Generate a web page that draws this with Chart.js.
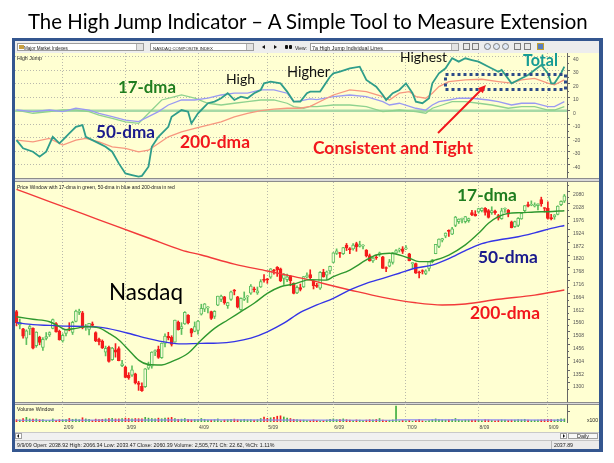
<!DOCTYPE html>
<html>
<head>
<meta charset="utf-8">
<script src="https://cdn.jsdelivr.net/npm/chart.js@4.4.0/dist/chart.umd.min.js"></script>
<style>
  body { margin:0; width:614px; height:463px; background:#fff; position:relative; overflow:hidden; font-family:"Liberation Sans", Arial, sans-serif; }
  .abs { position:absolute; }
  .txt { position:absolute; white-space:nowrap; line-height:1; font-size:10px; }
  .ann { font-family:Lato, "Open Sans", sans-serif; font-weight:bold; }
  .ui { font-family:"Liberation Sans", Arial, sans-serif; color:#222; }
  .combo { position:absolute; height:8px; background:#fff; border:1px solid #9c9c9c; box-sizing:border-box; }
  .btn { position:absolute; width:6px; height:6px; top:0; right:0; background:#e4e4e4; border-left:1px solid #b0b0b0; }
  .ico { position:absolute; top:43px; width:7px; height:7px; box-sizing:border-box; border:1px solid #7d7d7d; background:#e8e8e8; }
  canvas { position:absolute; }
</style>
</head>
<body>
<!-- window frame and panels -->
<div class="abs" style="left:12px;top:38px;width:591px;height:414px;background:#34568f"></div>
<div class="abs" style="left:15px;top:41px;width:584px;height:12px;background:#ededed"></div>
<div class="abs" style="left:15px;top:53px;width:584px;height:125px;background:#ffffd2"></div>
<div class="abs" style="left:15px;top:178px;width:584px;height:4px;background:#d9d9d9;border-top:1px solid #8c8c8c;border-bottom:1px solid #8c8c8c;box-sizing:border-box"></div>
<div class="abs" style="left:15px;top:182px;width:584px;height:220px;background:#ffffd2"></div>
<div class="abs" style="left:15px;top:402px;width:584px;height:3px;background:#d9d9d9;border-top:1px solid #8c8c8c;border-bottom:1px solid #8c8c8c;box-sizing:border-box"></div>
<div class="abs" style="left:15px;top:405px;width:584px;height:27px;background:#ffffd2"></div>
<div class="abs" style="left:15px;top:432px;width:584px;height:8px;background:#f1f1f1;border-top:1px solid #c9c9c9;box-sizing:border-box"></div>
<div class="abs" style="left:15px;top:440px;width:584px;height:9px;background:#ebebeb;border-top:1px solid #c4c4c4;box-sizing:border-box"></div>
<div class="abs" style="left:551px;top:441px;width:1px;height:8px;background:#b8b8b8"></div>

<!-- toolbar -->
<div class="combo" style="left:17px;top:43px;width:127px"><div class="abs" style="left:1px;top:1px;width:5px;height:4px;background:#c8a040"></div><div class="btn"></div></div>
<div class="combo" style="left:150px;top:43px;width:104px"><div class="btn"></div></div>
<div class="abs" style="left:262px;top:45px;width:0;height:0;border-top:2px solid transparent;border-bottom:2px solid transparent;border-right:3px solid #111"></div>
<div class="abs" style="left:274px;top:45px;width:0;height:0;border-top:2px solid transparent;border-bottom:2px solid transparent;border-left:3px solid #111"></div>
<div class="abs" style="left:285px;top:45px;width:3px;height:4px;border-radius:1px;background:#111"></div>
<div class="abs" style="left:289px;top:45px;width:3px;height:4px;border-radius:1px;background:#111"></div>
<div class="combo" style="left:310px;top:43px;width:149px"><div class="btn"></div></div>
<div class="ico" style="left:463px"></div>
<div class="ico" style="left:472px"></div>
<div class="ico" style="left:484px;border-radius:4px;background:#dfe8f5"></div>
<div class="ico" style="left:493px;border-radius:4px;background:#dfe8f5"></div>
<div class="ico" style="left:502px;border-radius:4px;background:#dfe8f5"></div>
<div class="ico" style="left:514px"></div>
<div class="ico" style="left:524px"></div>
<div class="ico" style="left:537px;background:#5a7fc0;border-color:#c0a030"></div>

<!-- scrollbar buttons -->
<div class="abs" style="left:15px;top:433px;width:7px;height:6px;background:#fff;border:1px solid #a0a0a0;box-sizing:border-box"></div>
<div class="abs" style="left:17px;top:434px;width:0;height:0;border-top:2px solid transparent;border-bottom:2px solid transparent;border-right:2px solid #111"></div>
<div class="abs" style="left:560px;top:433px;width:7px;height:6px;background:#fff;border:1px solid #a0a0a0;box-sizing:border-box"></div>
<div class="abs" style="left:563px;top:434px;width:0;height:0;border-top:2px solid transparent;border-bottom:2px solid transparent;border-left:2px solid #111"></div>
<div class="abs" style="left:568px;top:433px;width:30px;height:6px;background:#f7f7f7;border:1px solid #a0a0a0;box-sizing:border-box"></div>

<canvas id="hj" width="584" height="125" style="left:15px;top:53px"></canvas>
<canvas id="price" width="584" height="220" style="left:15px;top:182px"></canvas>
<canvas id="vol" width="584" height="29" style="left:15px;top:404px"></canvas>

<svg class="abs" style="left:0;top:0" width="614" height="463">
  <rect x="445.5" y="74.5" width="120" height="15" fill="none" stroke="#2c4a88" stroke-width="3" stroke-dasharray="3 3"/>
  <line x1="438" y1="133" x2="481" y2="90" stroke="#f2161c" stroke-width="2"/>
  <polygon points="486,85 482.8,93.2 477.8,88.2" fill="#f2161c"/>
</svg>

<div id="title" class="txt" style="font-family:Lato, 'Open Sans', sans-serif;color:#000">The High Jump Indicator – A Simple Tool to Measure Extension</div>
<div id="tb1" class="txt ui">Major Market Indexes</div>
<div id="tb2" class="txt ui">NASDAQ COMPOSITE INDEX</div>
<div id="tb3" class="txt ui">View:</div>
<div id="tb4" class="txt ui">7a High Jump Individual Lines</div>
<div id="lblHJ" class="txt ui">High Jump</div>
<div id="lblPrice" class="txt ui">Price Window with 17-dma in green, 50-dma in blue and 200-dma in red</div>
<div id="lblVol" class="txt ui">Volume Window</div>
<div id="lblX100" class="txt ui">x100</div>
<div id="lblDaily" class="txt ui">Daily</div>
<div id="status" class="txt ui">9/9/09 Open: 2038.92 High: 2066.34 Low: 2033.47 Close: 2060.39 Volume: 2,505,771 Ch: 22.62, %Ch: 1.11%</div>
<div id="status2" class="txt ui">2037.89</div>

<div id="a17" class="txt ann" style="color:#1f7d1f">17-dma</div>
<div id="aHigh" class="txt ann" style="font-weight:normal;color:#111">High</div>
<div id="aHigher" class="txt ann" style="font-weight:normal;color:#111">Higher</div>
<div id="aHighest" class="txt ann" style="font-weight:normal;color:#111">Highest</div>
<div id="aTotal" class="txt ann" style="color:#179c95">Total</div>
<div id="a50" class="txt ann" style="color:#1a1a8c">50-dma</div>
<div id="a200" class="txt ann" style="color:#f2161c">200-dma</div>
<div id="aCT" class="txt ann" style="color:#f2161c">Consistent and Tight</div>
<div id="p17" class="txt ann" style="color:#1f7d1f">17-dma</div>
<div id="p50" class="txt ann" style="color:#1a1a8c">50-dma</div>
<div id="p200" class="txt ann" style="color:#f2161c">200-dma</div>
<div id="pNas" class="txt ann" style="font-weight:normal;color:#000">Nasdaq</div>

<script>
// trading days 0..166 = 12 Jan 2009 .. 9 Sep 2009
const monthTicks = [14, 33, 55, 76, 96, 118, 140, 161];
const monthLabels = ['2/09', '3/09', '4/09', '5/09', '6/09', '7/09', '8/09', '9/09'];

// daily Nasdaq candles (Jan | Feb | Mar | Apr | May | Jun | Jul | Aug | Sep)
const opens = [
  1590,1536,1520,1482,1520,1522,1452,1486,1445,1481,1495,1522,1541,1510,
  1471,1501,1520,1505,1550,1587,1585,1526,1518,1540,1505,1478,1470,1425,1445,1395,1435,1440,1370,
  1365,1331,1332,1337,1301,1286,1285,1360,1368,1427,1437,1403,1461,1490,1486,1466,1548,1521,1540,1575,1520,1510,
  1514,1580,1600,1605,1590,1570,1616,1640,1650,1614,1640,1675,1650,1598,1640,1650,1665,1680,1666,1690,1718,
  1720,1730,1758,1770,1764,1725,1720,1735,1705,1666,1688,1690,1732,1740,1715,1697,1685,1750,1738,1755,
  1790,1826,1828,1825,1860,1843,1845,1866,1855,1856,1840,1818,1796,1812,1825,1813,1768,1775,1790,1827,1840,1845,
  1845,1825,1785,1785,1748,1755,1745,1765,1793,1825,1855,1880,1897,1918,1905,1940,1955,1965,1955,1960,1992,1985,
  1995,2000,2010,2000,1992,1998,1980,1968,2006,2003,1955,1935,1940,1967,2000,2025,2022,2018,2020,2045,2010,
  2010,1972,1975,1985,2025,2039
];
const highs = [
  1595,1560,1522,1516,1534,1524,1508,1490,1485,1505,1508,1560,1545,1515,
  1500,1518,1545,1551,1596,1600,1591,1538,1542,1548,1508,1482,1475,1450,1450,1445,1460,1447,1392,
  1368,1342,1370,1340,1307,1301,1359,1385,1427,1435,1450,1463,1500,1506,1492,1556,1552,1545,1590,1578,1522,1548,
  1555,1620,1623,1610,1592,1594,1653,1657,1652,1628,1673,1680,1652,1646,1670,1655,1700,1690,1690,1720,1740,
  1725,1765,1762,1773,1767,1745,1742,1737,1707,1695,1702,1733,1748,1760,1718,1705,1753,1762,1755,1775,
  1830,1845,1831,1851,1867,1850,1866,1872,1876,1862,1842,1824,1812,1820,1832,1815,1772,1802,1831,1842,1848,1854,
  1858,1827,1790,1787,1755,1760,1760,1794,1802,1863,1886,1888,1910,1922,1932,1977,1967,1970,1977,1970,2002,2000,
  2010,2012,2013,2005,2016,2003,1985,2010,2012,2005,1958,1958,1972,1990,2021,2035,2040,2032,2028,2055,2012,
  2036,1985,1984,2020,2040,2066
];
const lows = [
  1532,1520,1482,1456,1496,1438,1445,1455,1432,1475,1489,1520,1506,1474,
  1466,1491,1512,1497,1548,1578,1520,1514,1495,1532,1468,1455,1440,1410,1385,1392,1405,1390,1366,
  1321,1315,1327,1296,1270,1266,1282,1355,1360,1411,1400,1400,1447,1475,1450,1466,1515,1497,1538,1540,1488,1508,
  1498,1576,1590,1585,1558,1562,1614,1630,1620,1603,1635,1658,1605,1595,1635,1627,1660,1670,1660,1688,1710,
  1705,1725,1742,1733,1712,1700,1712,1695,1662,1663,1674,1688,1727,1722,1682,1688,1680,1730,1720,1743,
  1788,1822,1810,1822,1838,1825,1840,1835,1852,1845,1812,1795,1790,1802,1815,1765,1752,1772,1783,1826,1832,1826,
  1842,1796,1768,1745,1727,1743,1740,1755,1788,1825,1850,1873,1890,1895,1903,1935,1948,1950,1950,1953,1980,1978,
  1990,1995,1982,1970,1985,1985,1962,1965,1993,1975,1930,1932,1935,1965,1995,2015,2020,2015,2003,2018,1995,
  1966,1963,1965,1983,2020,2033
];
const closes = [
  1545,1546,1490,1512,1529,1441,1507,1465,1477,1489,1505,1558,1508,1476,
  1494,1516,1515,1546,1592,1592,1525,1530,1542,1534,1471,1468,1443,1441,1388,1442,1425,1391,1378,
  1323,1321,1354,1300,1294,1269,1358,1372,1426,1432,1404,1462,1491,1483,1457,1556,1517,1529,1587,1545,1502,1529,
  1552,1603,1622,1607,1562,1591,1653,1653,1626,1627,1670,1673,1608,1644,1646,1652,1694,1679,1674,1712,1717,
  1719,1764,1754,1759,1716,1739,1731,1716,1664,1689,1680,1732,1735,1728,1695,1692,1750,1731,1752,1774,
  1829,1837,1826,1850,1849,1842,1860,1853,1862,1859,1816,1796,1808,1808,1827,1766,1765,1792,1830,1838,1844,1835,
  1846,1797,1787,1746,1747,1753,1756,1793,1800,1863,1885,1887,1909,1916,1926,1974,1966,1968,1976,1968,1984,1979,
  2009,2011,1993,1973,2000,1992,1970,1999,2009,1986,1931,1956,1969,1989,2021,2018,2024,2024,2028,2029,2009,
  1969,1967,1983,2019,2038,2060
];
// volume, millions of shares
const volumes = [
  2300,2250,2600,2900,2500,2450,2500,2300,2350,2050,2100,2500,2150,2300,
  2300,2350,2600,2400,2450,2300,2800,2500,2400,2100,2450,2300,2400,2500,2600,2650,2500,2500,2600,
  2700,2600,2550,2600,2550,2500,2900,2700,2600,2500,2700,2550,2700,2750,2900,2600,2400,2450,2600,2400,2300,2350,
  2300,2600,2400,2200,2200,2300,2500,2000,2250,2300,2400,2450,2300,2250,2400,2250,2300,2200,2300,2600,3000,
  2650,2800,2900,3200,3300,3000,2700,2600,2400,2300,2200,2200,2100,2050,2250,2100,2000,2050,2200,2400,
  2500,2300,2350,2500,2300,2200,2100,2250,2200,2100,2200,2300,2250,2350,2600,2200,2100,2150,2250,5800,2000,2100,
  2000,2100,1900,2100,2300,2000,1900,2100,2300,2500,2300,2250,2200,2250,2300,2600,2250,2100,2200,2200,2200,2250,
  2200,2100,2300,2250,2100,2000,2150,2250,2200,2100,2200,2200,2300,2250,2400,2200,2100,2150,2200,2250,2300,
  2400,2300,2200,2400,2500,2500
];
const volAvgDays = [0, 30, 60, 90, 114, 116, 140, 166];
const volAvg = [2150, 2200, 2250, 2200, 2150, 2250, 2250, 2200];

// moving averages on the price panel
const ma17Days = [0,5,10,13,15,18,21,25,28,31,34,37,40,44,47,52,56,60,64,68,72,76,80,84,89,94,96,101,106,109,113,116,119,122,125,127,131,136,140,143,146,149,153,157,161,166];
const ma17 = [1569,1559,1549,1529,1517,1522,1529,1524,1502,1475,1434,1393,1375,1373,1387,1421,1475,1522,1556,1590,1624,1664,1691,1702,1720,1718,1732,1759,1800,1820,1827,1820,1807,1793,1793,1800,1820,1861,1908,1949,1976,1989,1992,1995,1996,2000];
const ma50Days = [0,5,10,15,20,25,31,35,40,46,50,56,61,66,71,76,81,86,91,96,101,106,111,116,121,126,131,136,141,146,152,157,162,166];
const ma50 = [1545,1537,1534,1531,1530,1527,1512,1498,1480,1464,1459,1461,1462,1468,1482,1508,1543,1587,1617,1644,1678,1705,1725,1746,1767,1779,1805,1838,1866,1881,1894,1910,1928,1940];
const ma200Days = [0,10,20,30,40,50,56,66,76,83,89,96,101,111,121,129,136,146,157,166];
const ma200 = [2087,2037,1988,1938,1889,1840,1820,1783,1755,1735,1718,1694,1678,1648,1626,1617,1621,1640,1657,1678];

// High Jump indicator lines (% extension)
const hjTotalDays = [0,2,5,7,9,11,13,14,16,18,20,21,23,25,27,29,31,33,35,37,38,40,41,43,46,47,50,52,53,55,56,58,60,62,64,66,68,70,72,74,75,77,80,82,84,86,88,89,92,95,96,98,101,104,106,109,111,112,114,116,118,120,121,123,125,126,128,130,132,134,136,138,140,143,146,147,150,152,155,157,159,161,162,163,165,166];
const hjTotal = [-21.6,-27.7,-30.2,-33.9,-30.2,-19.2,-24.0,-21.6,-16.7,-11.8,-10.5,-19.2,-21.6,-24.0,-26.5,-30.2,-38.8,-46.2,-47.4,-48.6,-48.0,-41.3,-26.5,-19.2,-11.8,-4.4,0.6,-0.6,-9.3,-1.8,0.6,5.6,6.8,9.3,13.0,8.0,10.5,9.3,13.0,15.4,20.3,21.5,20.3,14.2,6.8,6.8,13.0,14.2,14.2,25.2,27.7,28.9,31.4,32.6,22.8,17.8,11.7,8.0,13.0,15.4,20.3,13.0,6.8,5.6,9.3,20.3,27.7,31.4,38.8,36.3,38.8,37.5,36.3,32.6,28.9,30.2,20.3,22.8,26.5,30.2,33.8,27.7,20.3,20.3,27.7,32.6];
const hj17Days = [0,5,10,14,18,22,25,29,33,37,38,41,44,48,50,54,58,62,66,70,74,78,82,84,87,89,91,96,101,106,111,116,121,124,126,129,132,136,140,144,149,153,157,161,163,166];
const hj17 = [0.6,-1.8,-0.6,0.6,0.6,-0.6,-3.1,-5.6,-8.1,-9.3,-6.8,0.6,8.0,10.5,11.7,9.3,5.6,4.3,5.6,6.8,8.0,8.0,5.6,3.1,1.9,3.3,3.1,4.3,4.3,3.1,-0.6,0.6,-0.6,-1.8,1.9,4.3,6.8,6.8,5.6,4.3,1.9,3.1,3.1,0.6,0.6,3.1];
const hj50Days = [0,5,10,14,18,22,25,29,33,37,40,43,46,50,54,58,62,66,70,74,78,82,84,86,89,91,96,101,106,111,113,116,121,124,126,128,131,134,138,143,146,150,153,157,161,163,166];
const hj50 = [0.6,-0.6,0.6,-0.6,1.9,0.6,-1.8,-4.3,-6.8,-8.0,-4.3,-0.6,4.3,8.0,8.0,9.3,11.7,13.0,13.0,15.4,15.4,13.0,6.8,7.3,8.8,8.3,10.5,11.7,10.5,6.8,4.3,5.6,1.9,0.6,4.3,6.8,8.0,9.3,9.3,8.0,6.8,4.3,5.6,5.6,3.1,3.1,6.8];
const hj200Days = [0,5,10,14,18,21,25,29,33,37,40,43,46,50,54,58,62,66,70,74,78,82,86,89,96,101,106,111,113,116,119,121,124,126,128,131,136,141,146,150,153,157,161,163,166];
const hj200 = [-21.6,-22.9,-20.4,-25.3,-21.6,-20.4,-22.9,-26.6,-27.8,-30.3,-29.1,-24.1,-19.2,-15.5,-13.0,-10.5,-8.1,-4.4,-1.8,0.1,1.2,1.9,1.9,3.3,11.7,15.4,14.2,10.5,8.0,13.0,14.2,10.5,9.3,13.0,17.9,21.6,22.8,23.3,21.6,20.4,22.8,24.0,20.4,19.2,22.8];

const hjTickVals = [-40, -30, -20, -10, 0, 10, 20, 30, 40];
const priceTickVals = [1300,1352,1404,1456,1508,1560,1612,1664,1716,1768,1820,1872,1924,1976,2028,2080];

Chart.defaults.animation = false;
Chart.defaults.font.family = '"Liberation Sans", Arial, sans-serif';
Chart.defaults.plugins.legend.display = false;
Chart.defaults.plugins.tooltip.enabled = false;

const pts = (days, vals) => days.map((d, k) => ({ x: d, y: vals[k] }));
const isUp = closes.map((c, i) => c >= opens[i]);
const upCol = '#5fbf5f', dnCol = '#f41c1c';

function xScale(showLabels) {
  return {
    type: 'linear', min: -0.45, max: 166.8, offset: false, position: 'bottom',
    afterBuildTicks: s => { s.ticks = monthTicks.map(v => ({ value: v })); },
    afterFit: s => { s.height = showLabels ? 11 : 0; s.paddingLeft = 0; s.paddingRight = 0; },
    grid: { color: '#b9b9ac', drawTicks: false, offset: false },
    border: { display: false, dash: [1, 2] },
    ticks: {
      display: showLabels, autoSkip: false, maxRotation: 0, align: 'start', labelOffset: 1, padding: 3,
      font: { size: 5 }, color: '#444', callback: (v, i) => monthLabels[i]
    }
  };
}
function yScale(min, max, vals, labelOffset, hGrid, showLabels) {
  return {
    type: 'linear', position: 'right', min, max,
    afterBuildTicks: s => { s.ticks = vals.map(v => ({ value: v })); },
    afterFit: s => { s.width = 32; s.paddingTop = 0; s.paddingBottom = 0; },
    grid: { drawOnChartArea: hGrid, color: '#b9b9ac', tickLength: 3, tickColor: '#666', tickBorderDash: [] },
    border: { display: true, color: '#666', dash: [1, 2] },
    ticks: { labelOffset, padding: 3, font: { size: 5 }, color: '#555', callback: v => showLabels ? v : '' }
  };
}
const minorTicks = {
  id: 'minorTicks',
  afterDraw(chart) {
    const s = chart.scales.y, a = chart.chartArea, ctx = chart.ctx;
    const t = s.ticks.map(k => k.value);
    if (t.length < 2) return;
    const step = t[1] - t[0];
    ctx.save();
    ctx.strokeStyle = '#666';
    ctx.lineWidth = 1;
    for (let v = t[0] - step / 2; v <= s.max; v += step) {
      if (v < s.min) continue;
      const py = Math.round(s.getPixelForValue(v)) + 0.5;
      ctx.beginPath(); ctx.moveTo(a.right, py); ctx.lineTo(a.right + 2, py); ctx.stroke();
    }
    ctx.restore();
  }
};
const zeroLine = {
  id: 'zeroLine',
  beforeDatasetsDraw(chart) {
    const y = chart.scales.y.getPixelForValue(0), a = chart.chartArea, ctx = chart.ctx;
    ctx.save();
    ctx.strokeStyle = '#a6d9a6';
    ctx.lineWidth = 2.5;
    ctx.beginPath(); ctx.moveTo(a.left, y); ctx.lineTo(a.right, y); ctx.stroke();
    ctx.restore();
  }
};
const line = (data, color, width, order) => ({
  type: 'line', data, borderColor: color, borderWidth: width, pointRadius: 0, tension: 0, order
});
const smooth = (data, color, width) => ({
  type: 'line', data, borderColor: color, borderWidth: width, pointRadius: 0, cubicInterpolationMode: 'monotone', order: 0
});
const baseOpts = { responsive: false, maintainAspectRatio: false, events: [], layout: { padding: 0 } };

// High Jump panel
new Chart(document.getElementById('hj'), {
  type: 'line',
  data: { datasets: [
    line(pts(hjTotalDays, hjTotal), '#2f9d8a', 1.8, 0),
    line(pts(hj200Days, hj200), '#f7977f', 1.3, 1),
    line(pts(hj50Days, hj50), '#9a9af2', 1.3, 2),
    line(pts(hj17Days, hj17), '#8fd28f', 1.3, 3)
  ]},
  options: { ...baseOpts, scales: { x: xScale(false), y: yScale(-49.6, 42.7, hjTickVals, 2.5, true, true) } },
  plugins: [zeroLine, minorTicks]
});

// price panel
new Chart(document.getElementById('price'), {
  type: 'bar',
  data: { datasets: [
    smooth(pts(ma17Days, ma17), '#2f982f', 1.4),
    smooth(pts(ma50Days, ma50), '#3434e6', 1.4),
    smooth(pts(ma200Days, ma200), '#f23a3a', 1.4),
    { data: closes.map((c, i) => ({ x: i, y: [lows[i], highs[i]] })), barThickness: 1, grouped: false, order: 2,
      backgroundColor: isUp.map(u => u ? upCol : dnCol) },
    { data: closes.map((c, i) => ({ x: i, y: [opens[i], c] })), barThickness: 3, grouped: false, order: 1,
      minBarLength: 1, borderWidth: 1, borderSkipped: false,
      backgroundColor: isUp.map(u => u ? '#f4fbd6' : dnCol), borderColor: isUp.map(u => u ? upCol : dnCol) }
  ]},
  options: { ...baseOpts, scales: { x: xScale(false), y: yScale(1222.8, 2116.6, priceTickVals, 4, false, true) } },
  plugins: [minorTicks]
});

// volume panel
new Chart(document.getElementById('vol'), {
  type: 'bar',
  data: { datasets: [
    line(pts(volAvgDays, volAvg), '#8b8bf0', 1.2, 0),
    { data: volumes.map((v, i) => ({ x: i, y: v })), barThickness: 1, grouped: false, order: 1,
      backgroundColor: isUp.map(u => u ? '#3fae3f' : dnCol) }
  ]},
  options: { ...baseOpts, scales: { x: xScale(true), y: yScale(1700, 6362, [4300], 0, false, false) } }
});

// text placement: [id, left, baseline, width]
const placements = [
  ['title', 28, 29, 560],
  ['tb1', 24, 49.5, 44], ['tb2', 153, 49.5, 60], ['tb3', 295, 49.5, 12], ['tb4', 312, 49.5, 71],
  ['lblHJ', 17, 60, 25], ['lblPrice', 17, 189, 158], ['lblVol', 17, 410.5, 37],
  ['lblX100', 587, 421.5, 11], ['lblDaily', 577, 438, 12],
  ['status', 17, 446.5, 258], ['status2', 554, 446.5, 19],
  ['a17', 118, 92.5, 58], ['aHigh', 226, 84, 29], ['aHigher', 287, 77.3, 43], ['aHighest', 400, 61.5, 47],
  ['aTotal', 523, 66, 35], ['a50', 96, 137.5, 59], ['a200', 180, 148, 70], ['aCT', 313, 154, 160],
  ['p17', 457, 200.5, 60], ['p50', 478, 263, 60], ['p200', 470, 319, 70], ['pNas', 109, 300, 74]
];
function place(id, left, baseline, width) {
  const el = document.getElementById(id);
  el.style.left = left + 'px';
  el.style.top = '0px';
  const fs = parseFloat(getComputedStyle(el).fontSize);
  el.style.fontSize = (fs * width / el.getBoundingClientRect().width) + 'px';
  const probe = document.createElement('span');
  probe.style.cssText = 'display:inline-block;width:0;height:0';
  el.appendChild(probe);
  const b = probe.getBoundingClientRect().top - el.getBoundingClientRect().top;
  el.style.top = (baseline - b) + 'px';
}
placements.forEach(p => place(...p));
</script>
</body>
</html>
